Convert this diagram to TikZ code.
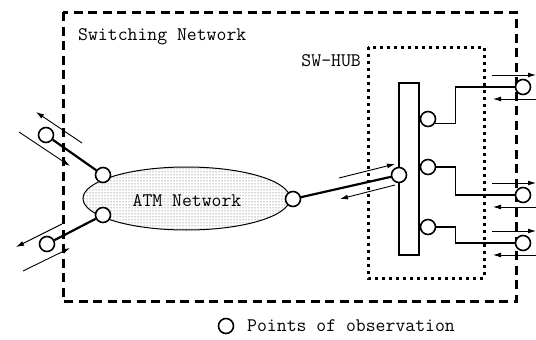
\documentclass[tikz,border=0pt]{standalone}
\usepackage{fontspec}
\usetikzlibrary{arrows.meta,patterns,shapes.geometric}
\begin{document}
\begin{tikzpicture}[x=1pt,y=-1pt,
  lbl/.style={font=\ttfamily\fontsize{19.2pt}{22pt}\selectfont, inner sep=0pt},
  obs/.style={circle, draw, line width=1.6pt, fill=white, minimum size=15pt, inner sep=0pt},
  outerbox/.style={line width=3pt, dash pattern=on 9pt off 5.5pt},
  hubbox/.style={line width=3pt, dash pattern=on 3pt off 4pt},
  thickcon/.style={line width=2.2pt},
  thincon/.style={line width=1.1pt},
  flow/.style={line width=0.9pt, -{Latex[length=8pt,width=5pt]}}]
\useasboundingbox (0,0) rectangle (536,340);

% boxes
\draw[outerbox] (63,12) rectangle (516,301);
\draw[hubbox] (368,47) rectangle (484,278);
\node[lbl, anchor=west] (swnet) at (78,37) {Switching Network};
\node[lbl, anchor=east] (swhub) at (361,61) {SW-HUB};

% ATM network
\node[ellipse, draw, line width=1pt, pattern=dots, pattern color=black!75,
      minimum width=207pt, minimum height=63pt, inner sep=0pt] (atm) at (186.5,198.5) {};
\node[lbl] (atmlbl) at (187,201) {ATM Network};

% hub bar
\node[draw, line width=1.1pt, minimum width=20pt, minimum height=172pt, inner sep=0pt] (bar) at (409,169) {};

% observation points
\node[obs] (l1) at (46,135) {};
\node[obs] (l2) at (47,244) {};
\node[obs] (a1) at (103,175) {};
\node[obs] (a2) at (103,215) {};
\node[obs] (a3) at (293,199) {};
\node[obs] (b0) at (399,175) {};
\node[obs] (h1) at (428,119) {};
\node[obs] (h2) at (428,167) {};
\node[obs] (h3) at (428,227) {};

% connectors
\draw[thickcon] (l1) -- (a1);
\draw[thickcon] (l2) -- (a2);
\draw[thickcon] (a3) -- (b0);
\draw[thincon] (h1.-30) -- ++(20,0) |- (523,87) coordinate (r1c);
\draw[thincon] (h2.east) -- ++(19,0) |- (523,195) coordinate (r2c);
\draw[thincon] (h3.east) -- ++(19,0) |- (523,243) coordinate (r3c);
\node[obs] (r1) at (r1c) {};
\node[obs] (r2) at (r2c) {};
\node[obs] (r3) at (r3c) {};

% flow arrows
\coordinate (fa1) at (82,143); \coordinate (fa2) at (36,112);
\coordinate (fb1) at (19,132); \coordinate (fb2) at (70,166);
\coordinate (fc1) at (62,224); \coordinate (fc2) at (16,247);
\coordinate (fd1) at (23,271); \coordinate (fd2) at (70,248);
\coordinate (fe1) at (339,178); \coordinate (fe2) at (395,164);
\coordinate (ff1) at (395,185); \coordinate (ff2) at (340,199);
\draw[flow] (fa1) -- (fa2);
\draw[flow] (fb1) -- (fb2);
\draw[flow] (fc1) -- (fc2);
\draw[flow] (fd1) -- (fd2);
\draw[flow] (fe1) -- (fe2);
\draw[flow] (ff1) -- (ff2);
\foreach \r in {r1,r2,r3}{
  \draw[flow] ([shift={(-31,-12)}]\r.center) -- ([shift={(13,-12)}]\r.center);
  \draw[flow] ([shift={(13,12)}]\r.center) -- ([shift={(-30,12)}]\r.center);
}

% legend
\node[obs] (leg) at (226,326) {};
\node[lbl, anchor=west] (legtxt) at (247,326) {Points of observation};
\end{tikzpicture}
\end{document}
